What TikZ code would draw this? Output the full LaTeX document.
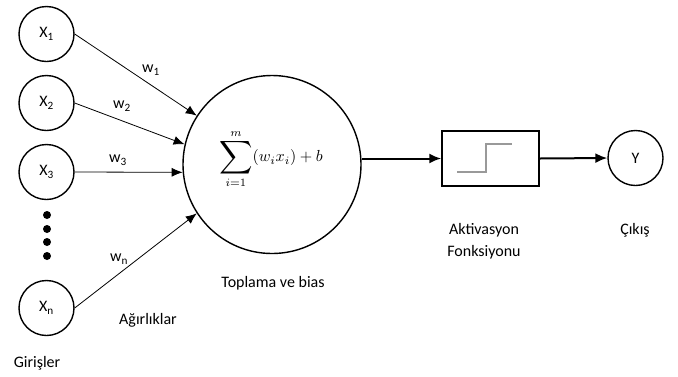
\documentclass[tikz,border=0pt]{standalone}
\usepackage{fontspec}
\setmainfont{Carlito}
\usetikzlibrary{arrows.meta}
\newcommand{\bigsumsym}{\mathop{\vcenter{\hbox{\scalebox{1.45}{$\displaystyle\sum$}}}}\limits}
\begin{document}
\begin{tikzpicture}[x=1pt,y=-1pt,
  circ/.style={draw, circle, line width=1.4pt, minimum size=55pt, inner sep=0pt, font=\fontsize{16}{19}\selectfont},
  lbl/.style={font=\fontsize{16}{19}\selectfont, inner sep=0pt, align=center},
  thinarrow/.style={line width=0.8pt, -{Latex[length=11pt,width=9pt]}},
  thickarrow/.style={line width=2pt, -{Latex[length=12pt,width=10pt]}},
  dotnode/.style={circle, fill, inner sep=0pt, minimum size=8pt}]
\useasboundingbox (0,0) rectangle (678,376);
% inputs
\node[circ] (x1) at (46.5,34) {X\textsubscript{1}};
\node[circ] (x2) at (46.5,103) {X\textsubscript{2}};
\node[circ] (x3) at (46.5,172) {X\textsubscript{3}};
\node[circ] (xn) at (46.5,308) {X\textsubscript{n}};
\node[dotnode] (d1) at (47,215) {};
\node[dotnode] (d2) at (47,229) {};
\node[dotnode] (d3) at (47,242) {};
\node[dotnode] (d4) at (47,256) {};
% summation
\node[draw, circle, line width=1.4pt, minimum size=178pt, inner sep=0pt] (sum) at (272,164.5) {};
\node[inner sep=0pt, scale=1.6, transform shape] (formula) at (271,159) {$\displaystyle\bigsumsym_{i=1}^{m}(w_i x_i)+b$};
% weights
\draw[thinarrow] (x1.east) -- (sum.147);
\draw[thinarrow] (x2.east) -- (sum.167);
\draw[thinarrow] (x3.east) -- (sum.185);
\draw[thinarrow] (xn.east) -- (sum.213);
\node[lbl] (w1) at (151,70) {w\textsubscript{1}};
\node[lbl] (w2) at (122,106) {w\textsubscript{2}};
\node[lbl] (w3) at (118,160) {w\textsubscript{3}};
\node[lbl] (wn) at (119,259) {w\textsubscript{n}};
% activation
\node[draw, line width=1.4pt, minimum width=97pt, minimum height=55pt, inner sep=0pt] (act) at (490.5,158.5) {};
\draw[gray!80, line width=1.3pt] ([shift={(-33.5,13.5)}]act.center) -- ([shift={(-4.5,13.5)}]act.center) -- ([shift={(-4.5,-14.5)}]act.center) -- ([shift={(21.5,-14.5)}]act.center);
\node[circ] (y) at (635.5,158) {Y};
\draw[thickarrow] (act.west -| sum.east) -- (act.west);
\draw[thickarrow] (act.east) -- (y.west);
% labels
\node[lbl] (girisler) at (37,363) {Girişler};
\node[lbl] (agirliklar) at (148,320) {Ağırlıklar};
\node[lbl] (toplama) at (273,283) {Toplama ve bias};
\node[lbl] (aktivasyon) at (484,230) {Aktivasyon};
\node[lbl] (fonksiyonu) at (484,252) {Fonksiyonu};
\node[lbl] (cikis) at (635,230) {Çıkış};
\end{tikzpicture}
\end{document}
